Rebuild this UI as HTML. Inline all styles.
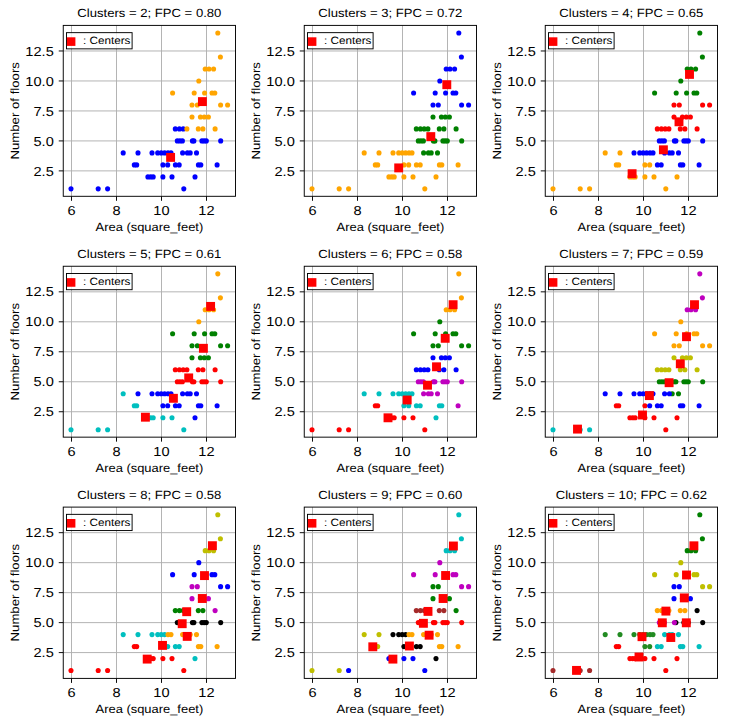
<!DOCTYPE html>
<html><head><meta charset="utf-8"><style>
html,body{margin:0;padding:0;background:#fff;}
svg{display:block;}
text{fill:#000;text-rendering:geometricPrecision;font-family:"Liberation Sans",sans-serif;}
</style></head><body>
<svg width="729" height="725" viewBox="0 0 729 725" font-family="Liberation Sans, sans-serif">
<rect width="729" height="725" fill="#fff"/>
<g>
<path d="M71.50 25.40V196.30M116.50 25.40V196.30M161.50 25.40V196.30M206.50 25.40V196.30M63.25 170.88H235.50M63.25 140.91H235.50M63.25 110.94H235.50M63.25 80.96H235.50M63.25 50.98H235.50" stroke="#b0b0b0" stroke-width="0.95" fill="none"/>
<path d="M71.50 196.30V200.80M116.50 196.30V200.80M161.50 196.30V200.80M206.50 196.30V200.80M63.25 170.88H58.75M63.25 140.91H58.75M63.25 110.94H58.75M63.25 80.96H58.75M63.25 50.98H58.75" stroke="#000" stroke-width="0.95" fill="none"/>
<text x="71.50" y="215.00" font-size="13.02" text-anchor="middle" textLength="8.12" lengthAdjust="spacingAndGlyphs">6</text>
<text x="116.50" y="215.00" font-size="13.02" text-anchor="middle" textLength="8.12" lengthAdjust="spacingAndGlyphs">8</text>
<text x="161.50" y="215.00" font-size="13.02" text-anchor="middle" textLength="16.24" lengthAdjust="spacingAndGlyphs">10</text>
<text x="206.50" y="215.00" font-size="13.02" text-anchor="middle" textLength="16.24" lengthAdjust="spacingAndGlyphs">12</text>
<text x="53.80" y="175.53" font-size="13.02" text-anchor="end" textLength="20.29" lengthAdjust="spacingAndGlyphs">2.5</text>
<text x="53.80" y="145.56" font-size="13.02" text-anchor="end" textLength="20.29" lengthAdjust="spacingAndGlyphs">5.0</text>
<text x="53.80" y="115.59" font-size="13.02" text-anchor="end" textLength="20.29" lengthAdjust="spacingAndGlyphs">7.5</text>
<text x="53.80" y="85.61" font-size="13.02" text-anchor="end" textLength="28.41" lengthAdjust="spacingAndGlyphs">10.0</text>
<text x="53.80" y="55.63" font-size="13.02" text-anchor="end" textLength="28.41" lengthAdjust="spacingAndGlyphs">12.5</text>
<text x="149.38" y="231.20" font-size="11.83" text-anchor="middle" textLength="107.66" lengthAdjust="spacingAndGlyphs">Area (square_feet)</text>
<text x="18.90" y="110.85" font-size="11.83" text-anchor="middle" textLength="97.47" lengthAdjust="spacingAndGlyphs" transform="rotate(-90 18.90 110.85)">Number of floors</text>
<text x="149.38" y="17.40" font-size="11.83" text-anchor="middle" textLength="143.98" lengthAdjust="spacingAndGlyphs">Clusters = 2; FPC = 0.80</text>
<circle cx="217.80" cy="33.00" r="2.55" fill="#ffa500"/>
<circle cx="220.40" cy="56.98" r="2.55" fill="#ffa500"/>
<circle cx="205.20" cy="68.97" r="2.55" fill="#ffa500"/>
<circle cx="209.00" cy="68.97" r="2.55" fill="#ffa500"/>
<circle cx="213.60" cy="68.97" r="2.55" fill="#ffa500"/>
<circle cx="198.80" cy="80.96" r="2.55" fill="#ffa500"/>
<circle cx="172.60" cy="92.95" r="2.55" fill="#ffa500"/>
<circle cx="194.20" cy="92.95" r="2.55" fill="#ffa500"/>
<circle cx="204.60" cy="92.95" r="2.55" fill="#ffa500"/>
<circle cx="212.00" cy="92.95" r="2.55" fill="#ffa500"/>
<circle cx="214.80" cy="92.95" r="2.55" fill="#ffa500"/>
<circle cx="192.00" cy="104.94" r="2.55" fill="#ffa500"/>
<circle cx="197.30" cy="104.94" r="2.55" fill="#ffa500"/>
<circle cx="220.60" cy="104.94" r="2.55" fill="#ffa500"/>
<circle cx="227.60" cy="104.94" r="2.55" fill="#ffa500"/>
<circle cx="192.00" cy="116.93" r="2.55" fill="#ffa500"/>
<circle cx="200.40" cy="116.93" r="2.55" fill="#ffa500"/>
<circle cx="204.30" cy="116.93" r="2.55" fill="#ffa500"/>
<circle cx="208.40" cy="116.93" r="2.55" fill="#ffa500"/>
<circle cx="175.30" cy="128.92" r="2.55" fill="#0000ff"/>
<circle cx="179.40" cy="128.92" r="2.55" fill="#0000ff"/>
<circle cx="183.20" cy="128.92" r="2.55" fill="#0000ff"/>
<circle cx="186.90" cy="128.92" r="2.55" fill="#ffa500"/>
<circle cx="198.30" cy="128.92" r="2.55" fill="#ffa500"/>
<circle cx="202.90" cy="128.92" r="2.55" fill="#ffa500"/>
<circle cx="215.10" cy="128.92" r="2.55" fill="#ffa500"/>
<circle cx="177.30" cy="140.91" r="2.55" fill="#0000ff"/>
<circle cx="179.90" cy="140.91" r="2.55" fill="#0000ff"/>
<circle cx="182.40" cy="140.91" r="2.55" fill="#0000ff"/>
<circle cx="192.40" cy="140.91" r="2.55" fill="#0000ff"/>
<circle cx="193.90" cy="140.91" r="2.55" fill="#0000ff"/>
<circle cx="201.90" cy="140.91" r="2.55" fill="#0000ff"/>
<circle cx="204.10" cy="140.91" r="2.55" fill="#0000ff"/>
<circle cx="206.30" cy="140.91" r="2.55" fill="#0000ff"/>
<circle cx="220.70" cy="140.91" r="2.55" fill="#0000ff"/>
<circle cx="123.20" cy="152.90" r="2.55" fill="#0000ff"/>
<circle cx="138.00" cy="152.90" r="2.55" fill="#0000ff"/>
<circle cx="152.00" cy="152.90" r="2.55" fill="#0000ff"/>
<circle cx="157.70" cy="152.90" r="2.55" fill="#0000ff"/>
<circle cx="161.20" cy="152.90" r="2.55" fill="#0000ff"/>
<circle cx="164.60" cy="152.90" r="2.55" fill="#0000ff"/>
<circle cx="168.00" cy="152.90" r="2.55" fill="#0000ff"/>
<circle cx="171.00" cy="152.90" r="2.55" fill="#0000ff"/>
<circle cx="182.60" cy="152.90" r="2.55" fill="#0000ff"/>
<circle cx="187.40" cy="152.90" r="2.55" fill="#0000ff"/>
<circle cx="190.20" cy="152.90" r="2.55" fill="#0000ff"/>
<circle cx="196.50" cy="152.90" r="2.55" fill="#0000ff"/>
<circle cx="134.30" cy="164.89" r="2.55" fill="#0000ff"/>
<circle cx="136.70" cy="164.89" r="2.55" fill="#0000ff"/>
<circle cx="162.90" cy="164.89" r="2.55" fill="#0000ff"/>
<circle cx="167.70" cy="164.89" r="2.55" fill="#0000ff"/>
<circle cx="175.40" cy="164.89" r="2.55" fill="#0000ff"/>
<circle cx="179.20" cy="164.89" r="2.55" fill="#0000ff"/>
<circle cx="198.40" cy="164.89" r="2.55" fill="#0000ff"/>
<circle cx="200.80" cy="164.89" r="2.55" fill="#0000ff"/>
<circle cx="217.10" cy="164.89" r="2.55" fill="#0000ff"/>
<circle cx="147.90" cy="176.88" r="2.55" fill="#0000ff"/>
<circle cx="150.70" cy="176.88" r="2.55" fill="#0000ff"/>
<circle cx="153.20" cy="176.88" r="2.55" fill="#0000ff"/>
<circle cx="162.90" cy="176.88" r="2.55" fill="#0000ff"/>
<circle cx="172.00" cy="176.88" r="2.55" fill="#0000ff"/>
<circle cx="195.00" cy="176.88" r="2.55" fill="#0000ff"/>
<circle cx="71.00" cy="188.87" r="2.55" fill="#0000ff"/>
<circle cx="98.20" cy="188.87" r="2.55" fill="#0000ff"/>
<circle cx="107.60" cy="188.87" r="2.55" fill="#0000ff"/>
<circle cx="183.80" cy="188.87" r="2.55" fill="#0000ff"/>
<rect x="197.95" y="97.15" width="8.9" height="8.9" fill="#ff0000"/>
<rect x="166.15" y="152.95" width="8.9" height="8.9" fill="#ff0000"/>
<rect x="66.50" y="32.65" width="65.60" height="16.20" fill="#fff" fill-opacity="0.8" stroke="#000" stroke-width="0.95"/>
<rect x="66.90" y="37.30" width="8.5" height="8.6" fill="#ff0000"/>
<text x="83.00" y="44.30" font-size="10.65" text-anchor="start" textLength="47.41" lengthAdjust="spacingAndGlyphs">: Centers</text>
<rect x="63.25" y="25.40" width="172.25" height="170.90" fill="none" stroke="#000" stroke-width="0.95"/>
</g>
<g>
<path d="M312.50 25.40V196.30M357.50 25.40V196.30M402.50 25.40V196.30M447.50 25.40V196.30M304.25 170.88H476.50M304.25 140.91H476.50M304.25 110.94H476.50M304.25 80.96H476.50M304.25 50.98H476.50" stroke="#b0b0b0" stroke-width="0.95" fill="none"/>
<path d="M312.50 196.30V200.80M357.50 196.30V200.80M402.50 196.30V200.80M447.50 196.30V200.80M304.25 170.88H299.75M304.25 140.91H299.75M304.25 110.94H299.75M304.25 80.96H299.75M304.25 50.98H299.75" stroke="#000" stroke-width="0.95" fill="none"/>
<text x="312.50" y="215.00" font-size="13.02" text-anchor="middle" textLength="8.12" lengthAdjust="spacingAndGlyphs">6</text>
<text x="357.50" y="215.00" font-size="13.02" text-anchor="middle" textLength="8.12" lengthAdjust="spacingAndGlyphs">8</text>
<text x="402.50" y="215.00" font-size="13.02" text-anchor="middle" textLength="16.24" lengthAdjust="spacingAndGlyphs">10</text>
<text x="447.50" y="215.00" font-size="13.02" text-anchor="middle" textLength="16.24" lengthAdjust="spacingAndGlyphs">12</text>
<text x="294.80" y="175.53" font-size="13.02" text-anchor="end" textLength="20.29" lengthAdjust="spacingAndGlyphs">2.5</text>
<text x="294.80" y="145.56" font-size="13.02" text-anchor="end" textLength="20.29" lengthAdjust="spacingAndGlyphs">5.0</text>
<text x="294.80" y="115.59" font-size="13.02" text-anchor="end" textLength="20.29" lengthAdjust="spacingAndGlyphs">7.5</text>
<text x="294.80" y="85.61" font-size="13.02" text-anchor="end" textLength="28.41" lengthAdjust="spacingAndGlyphs">10.0</text>
<text x="294.80" y="55.63" font-size="13.02" text-anchor="end" textLength="28.41" lengthAdjust="spacingAndGlyphs">12.5</text>
<text x="390.38" y="231.20" font-size="11.83" text-anchor="middle" textLength="107.66" lengthAdjust="spacingAndGlyphs">Area (square_feet)</text>
<text x="259.90" y="110.85" font-size="11.83" text-anchor="middle" textLength="97.47" lengthAdjust="spacingAndGlyphs" transform="rotate(-90 259.90 110.85)">Number of floors</text>
<text x="390.38" y="17.40" font-size="11.83" text-anchor="middle" textLength="143.98" lengthAdjust="spacingAndGlyphs">Clusters = 3; FPC = 0.72</text>
<circle cx="458.80" cy="33.00" r="2.55" fill="#0000ff"/>
<circle cx="461.40" cy="56.98" r="2.55" fill="#0000ff"/>
<circle cx="446.20" cy="68.97" r="2.55" fill="#0000ff"/>
<circle cx="450.00" cy="68.97" r="2.55" fill="#0000ff"/>
<circle cx="454.60" cy="68.97" r="2.55" fill="#0000ff"/>
<circle cx="439.80" cy="80.96" r="2.55" fill="#0000ff"/>
<circle cx="413.60" cy="92.95" r="2.55" fill="#0000ff"/>
<circle cx="435.20" cy="92.95" r="2.55" fill="#0000ff"/>
<circle cx="445.60" cy="92.95" r="2.55" fill="#0000ff"/>
<circle cx="453.00" cy="92.95" r="2.55" fill="#0000ff"/>
<circle cx="455.80" cy="92.95" r="2.55" fill="#0000ff"/>
<circle cx="433.00" cy="104.94" r="2.55" fill="#0000ff"/>
<circle cx="438.30" cy="104.94" r="2.55" fill="#0000ff"/>
<circle cx="461.60" cy="104.94" r="2.55" fill="#0000ff"/>
<circle cx="468.60" cy="104.94" r="2.55" fill="#0000ff"/>
<circle cx="433.00" cy="116.93" r="2.55" fill="#008000"/>
<circle cx="441.40" cy="116.93" r="2.55" fill="#008000"/>
<circle cx="445.30" cy="116.93" r="2.55" fill="#008000"/>
<circle cx="449.40" cy="116.93" r="2.55" fill="#008000"/>
<circle cx="416.30" cy="128.92" r="2.55" fill="#008000"/>
<circle cx="420.40" cy="128.92" r="2.55" fill="#008000"/>
<circle cx="424.20" cy="128.92" r="2.55" fill="#008000"/>
<circle cx="427.90" cy="128.92" r="2.55" fill="#008000"/>
<circle cx="439.30" cy="128.92" r="2.55" fill="#008000"/>
<circle cx="443.90" cy="128.92" r="2.55" fill="#008000"/>
<circle cx="456.10" cy="128.92" r="2.55" fill="#008000"/>
<circle cx="418.30" cy="140.91" r="2.55" fill="#008000"/>
<circle cx="420.90" cy="140.91" r="2.55" fill="#008000"/>
<circle cx="423.40" cy="140.91" r="2.55" fill="#008000"/>
<circle cx="433.40" cy="140.91" r="2.55" fill="#008000"/>
<circle cx="434.90" cy="140.91" r="2.55" fill="#008000"/>
<circle cx="442.90" cy="140.91" r="2.55" fill="#008000"/>
<circle cx="445.10" cy="140.91" r="2.55" fill="#008000"/>
<circle cx="447.30" cy="140.91" r="2.55" fill="#008000"/>
<circle cx="461.70" cy="140.91" r="2.55" fill="#008000"/>
<circle cx="364.20" cy="152.90" r="2.55" fill="#ffa500"/>
<circle cx="379.00" cy="152.90" r="2.55" fill="#ffa500"/>
<circle cx="393.00" cy="152.90" r="2.55" fill="#ffa500"/>
<circle cx="398.70" cy="152.90" r="2.55" fill="#ffa500"/>
<circle cx="402.20" cy="152.90" r="2.55" fill="#ffa500"/>
<circle cx="405.60" cy="152.90" r="2.55" fill="#ffa500"/>
<circle cx="409.00" cy="152.90" r="2.55" fill="#ffa500"/>
<circle cx="412.00" cy="152.90" r="2.55" fill="#ffa500"/>
<circle cx="423.60" cy="152.90" r="2.55" fill="#008000"/>
<circle cx="428.40" cy="152.90" r="2.55" fill="#008000"/>
<circle cx="431.20" cy="152.90" r="2.55" fill="#008000"/>
<circle cx="437.50" cy="152.90" r="2.55" fill="#008000"/>
<circle cx="375.30" cy="164.89" r="2.55" fill="#ffa500"/>
<circle cx="377.70" cy="164.89" r="2.55" fill="#ffa500"/>
<circle cx="403.90" cy="164.89" r="2.55" fill="#ffa500"/>
<circle cx="408.70" cy="164.89" r="2.55" fill="#ffa500"/>
<circle cx="416.40" cy="164.89" r="2.55" fill="#ffa500"/>
<circle cx="420.20" cy="164.89" r="2.55" fill="#ffa500"/>
<circle cx="439.40" cy="164.89" r="2.55" fill="#ffa500"/>
<circle cx="441.80" cy="164.89" r="2.55" fill="#ffa500"/>
<circle cx="458.10" cy="164.89" r="2.55" fill="#ffa500"/>
<circle cx="388.90" cy="176.88" r="2.55" fill="#ffa500"/>
<circle cx="391.70" cy="176.88" r="2.55" fill="#ffa500"/>
<circle cx="394.20" cy="176.88" r="2.55" fill="#ffa500"/>
<circle cx="403.90" cy="176.88" r="2.55" fill="#ffa500"/>
<circle cx="413.00" cy="176.88" r="2.55" fill="#ffa500"/>
<circle cx="436.00" cy="176.88" r="2.55" fill="#ffa500"/>
<circle cx="312.00" cy="188.87" r="2.55" fill="#ffa500"/>
<circle cx="339.20" cy="188.87" r="2.55" fill="#ffa500"/>
<circle cx="348.60" cy="188.87" r="2.55" fill="#ffa500"/>
<circle cx="424.80" cy="188.87" r="2.55" fill="#ffa500"/>
<rect x="442.35" y="80.25" width="8.9" height="8.9" fill="#ff0000"/>
<rect x="426.35" y="132.15" width="8.9" height="8.9" fill="#ff0000"/>
<rect x="394.25" y="163.45" width="8.9" height="8.9" fill="#ff0000"/>
<rect x="307.50" y="32.65" width="65.60" height="16.20" fill="#fff" fill-opacity="0.8" stroke="#000" stroke-width="0.95"/>
<rect x="307.90" y="37.30" width="8.5" height="8.6" fill="#ff0000"/>
<text x="324.00" y="44.30" font-size="10.65" text-anchor="start" textLength="47.41" lengthAdjust="spacingAndGlyphs">: Centers</text>
<rect x="304.25" y="25.40" width="172.25" height="170.90" fill="none" stroke="#000" stroke-width="0.95"/>
</g>
<g>
<path d="M553.50 25.40V196.30M598.50 25.40V196.30M643.50 25.40V196.30M688.50 25.40V196.30M545.25 170.88H717.50M545.25 140.91H717.50M545.25 110.94H717.50M545.25 80.96H717.50M545.25 50.98H717.50" stroke="#b0b0b0" stroke-width="0.95" fill="none"/>
<path d="M553.50 196.30V200.80M598.50 196.30V200.80M643.50 196.30V200.80M688.50 196.30V200.80M545.25 170.88H540.75M545.25 140.91H540.75M545.25 110.94H540.75M545.25 80.96H540.75M545.25 50.98H540.75" stroke="#000" stroke-width="0.95" fill="none"/>
<text x="553.50" y="215.00" font-size="13.02" text-anchor="middle" textLength="8.12" lengthAdjust="spacingAndGlyphs">6</text>
<text x="598.50" y="215.00" font-size="13.02" text-anchor="middle" textLength="8.12" lengthAdjust="spacingAndGlyphs">8</text>
<text x="643.50" y="215.00" font-size="13.02" text-anchor="middle" textLength="16.24" lengthAdjust="spacingAndGlyphs">10</text>
<text x="688.50" y="215.00" font-size="13.02" text-anchor="middle" textLength="16.24" lengthAdjust="spacingAndGlyphs">12</text>
<text x="535.80" y="175.53" font-size="13.02" text-anchor="end" textLength="20.29" lengthAdjust="spacingAndGlyphs">2.5</text>
<text x="535.80" y="145.56" font-size="13.02" text-anchor="end" textLength="20.29" lengthAdjust="spacingAndGlyphs">5.0</text>
<text x="535.80" y="115.59" font-size="13.02" text-anchor="end" textLength="20.29" lengthAdjust="spacingAndGlyphs">7.5</text>
<text x="535.80" y="85.61" font-size="13.02" text-anchor="end" textLength="28.41" lengthAdjust="spacingAndGlyphs">10.0</text>
<text x="535.80" y="55.63" font-size="13.02" text-anchor="end" textLength="28.41" lengthAdjust="spacingAndGlyphs">12.5</text>
<text x="631.38" y="231.20" font-size="11.83" text-anchor="middle" textLength="107.66" lengthAdjust="spacingAndGlyphs">Area (square_feet)</text>
<text x="500.90" y="110.85" font-size="11.83" text-anchor="middle" textLength="97.47" lengthAdjust="spacingAndGlyphs" transform="rotate(-90 500.90 110.85)">Number of floors</text>
<text x="631.38" y="17.40" font-size="11.83" text-anchor="middle" textLength="143.98" lengthAdjust="spacingAndGlyphs">Clusters = 4; FPC = 0.65</text>
<circle cx="699.80" cy="33.00" r="2.55" fill="#008000"/>
<circle cx="702.40" cy="56.98" r="2.55" fill="#008000"/>
<circle cx="687.20" cy="68.97" r="2.55" fill="#008000"/>
<circle cx="691.00" cy="68.97" r="2.55" fill="#008000"/>
<circle cx="695.60" cy="68.97" r="2.55" fill="#008000"/>
<circle cx="680.80" cy="80.96" r="2.55" fill="#008000"/>
<circle cx="654.60" cy="92.95" r="2.55" fill="#008000"/>
<circle cx="676.20" cy="92.95" r="2.55" fill="#008000"/>
<circle cx="686.60" cy="92.95" r="2.55" fill="#008000"/>
<circle cx="694.00" cy="92.95" r="2.55" fill="#008000"/>
<circle cx="696.80" cy="92.95" r="2.55" fill="#008000"/>
<circle cx="674.00" cy="104.94" r="2.55" fill="#ff0000"/>
<circle cx="679.30" cy="104.94" r="2.55" fill="#ff0000"/>
<circle cx="702.60" cy="104.94" r="2.55" fill="#ff0000"/>
<circle cx="709.60" cy="104.94" r="2.55" fill="#ff0000"/>
<circle cx="674.00" cy="116.93" r="2.55" fill="#ff0000"/>
<circle cx="682.40" cy="116.93" r="2.55" fill="#ff0000"/>
<circle cx="686.30" cy="116.93" r="2.55" fill="#ff0000"/>
<circle cx="690.40" cy="116.93" r="2.55" fill="#ff0000"/>
<circle cx="657.30" cy="128.92" r="2.55" fill="#ff0000"/>
<circle cx="661.40" cy="128.92" r="2.55" fill="#ff0000"/>
<circle cx="665.20" cy="128.92" r="2.55" fill="#ff0000"/>
<circle cx="668.90" cy="128.92" r="2.55" fill="#ff0000"/>
<circle cx="680.30" cy="128.92" r="2.55" fill="#ff0000"/>
<circle cx="684.90" cy="128.92" r="2.55" fill="#ff0000"/>
<circle cx="697.10" cy="128.92" r="2.55" fill="#ff0000"/>
<circle cx="659.30" cy="140.91" r="2.55" fill="#0000ff"/>
<circle cx="661.90" cy="140.91" r="2.55" fill="#0000ff"/>
<circle cx="664.40" cy="140.91" r="2.55" fill="#0000ff"/>
<circle cx="674.40" cy="140.91" r="2.55" fill="#0000ff"/>
<circle cx="675.90" cy="140.91" r="2.55" fill="#0000ff"/>
<circle cx="683.90" cy="140.91" r="2.55" fill="#0000ff"/>
<circle cx="686.10" cy="140.91" r="2.55" fill="#0000ff"/>
<circle cx="688.30" cy="140.91" r="2.55" fill="#0000ff"/>
<circle cx="702.70" cy="140.91" r="2.55" fill="#0000ff"/>
<circle cx="605.20" cy="152.90" r="2.55" fill="#ffa500"/>
<circle cx="620.00" cy="152.90" r="2.55" fill="#ffa500"/>
<circle cx="634.00" cy="152.90" r="2.55" fill="#0000ff"/>
<circle cx="639.70" cy="152.90" r="2.55" fill="#0000ff"/>
<circle cx="643.20" cy="152.90" r="2.55" fill="#0000ff"/>
<circle cx="646.60" cy="152.90" r="2.55" fill="#0000ff"/>
<circle cx="650.00" cy="152.90" r="2.55" fill="#0000ff"/>
<circle cx="653.00" cy="152.90" r="2.55" fill="#0000ff"/>
<circle cx="664.60" cy="152.90" r="2.55" fill="#0000ff"/>
<circle cx="669.40" cy="152.90" r="2.55" fill="#0000ff"/>
<circle cx="672.20" cy="152.90" r="2.55" fill="#0000ff"/>
<circle cx="678.50" cy="152.90" r="2.55" fill="#0000ff"/>
<circle cx="616.30" cy="164.89" r="2.55" fill="#ffa500"/>
<circle cx="618.70" cy="164.89" r="2.55" fill="#ffa500"/>
<circle cx="644.90" cy="164.89" r="2.55" fill="#ffa500"/>
<circle cx="649.70" cy="164.89" r="2.55" fill="#ffa500"/>
<circle cx="657.40" cy="164.89" r="2.55" fill="#0000ff"/>
<circle cx="661.20" cy="164.89" r="2.55" fill="#0000ff"/>
<circle cx="680.40" cy="164.89" r="2.55" fill="#0000ff"/>
<circle cx="682.80" cy="164.89" r="2.55" fill="#0000ff"/>
<circle cx="699.10" cy="164.89" r="2.55" fill="#0000ff"/>
<circle cx="629.90" cy="176.88" r="2.55" fill="#ffa500"/>
<circle cx="632.70" cy="176.88" r="2.55" fill="#ffa500"/>
<circle cx="635.20" cy="176.88" r="2.55" fill="#ffa500"/>
<circle cx="644.90" cy="176.88" r="2.55" fill="#ffa500"/>
<circle cx="654.00" cy="176.88" r="2.55" fill="#ffa500"/>
<circle cx="677.00" cy="176.88" r="2.55" fill="#ffa500"/>
<circle cx="553.00" cy="188.87" r="2.55" fill="#ffa500"/>
<circle cx="580.20" cy="188.87" r="2.55" fill="#ffa500"/>
<circle cx="589.60" cy="188.87" r="2.55" fill="#ffa500"/>
<circle cx="665.80" cy="188.87" r="2.55" fill="#ffa500"/>
<rect x="685.05" y="69.95" width="8.9" height="8.9" fill="#ff0000"/>
<rect x="674.55" y="117.35" width="8.9" height="8.9" fill="#ff0000"/>
<rect x="658.95" y="145.35" width="8.9" height="8.9" fill="#ff0000"/>
<rect x="627.65" y="169.25" width="8.9" height="8.9" fill="#ff0000"/>
<rect x="548.50" y="32.65" width="65.60" height="16.20" fill="#fff" fill-opacity="0.8" stroke="#000" stroke-width="0.95"/>
<rect x="548.90" y="37.30" width="8.5" height="8.6" fill="#ff0000"/>
<text x="565.00" y="44.30" font-size="10.65" text-anchor="start" textLength="47.41" lengthAdjust="spacingAndGlyphs">: Centers</text>
<rect x="545.25" y="25.40" width="172.25" height="170.90" fill="none" stroke="#000" stroke-width="0.95"/>
</g>
<g>
<path d="M71.50 266.25V437.15M116.50 266.25V437.15M161.50 266.25V437.15M206.50 266.25V437.15M63.25 411.74H235.50M63.25 381.76H235.50M63.25 351.78H235.50M63.25 321.81H235.50M63.25 291.83H235.50" stroke="#b0b0b0" stroke-width="0.95" fill="none"/>
<path d="M71.50 437.15V441.65M116.50 437.15V441.65M161.50 437.15V441.65M206.50 437.15V441.65M63.25 411.74H58.75M63.25 381.76H58.75M63.25 351.78H58.75M63.25 321.81H58.75M63.25 291.83H58.75" stroke="#000" stroke-width="0.95" fill="none"/>
<text x="71.50" y="455.85" font-size="13.02" text-anchor="middle" textLength="8.12" lengthAdjust="spacingAndGlyphs">6</text>
<text x="116.50" y="455.85" font-size="13.02" text-anchor="middle" textLength="8.12" lengthAdjust="spacingAndGlyphs">8</text>
<text x="161.50" y="455.85" font-size="13.02" text-anchor="middle" textLength="16.24" lengthAdjust="spacingAndGlyphs">10</text>
<text x="206.50" y="455.85" font-size="13.02" text-anchor="middle" textLength="16.24" lengthAdjust="spacingAndGlyphs">12</text>
<text x="53.80" y="416.38" font-size="13.02" text-anchor="end" textLength="20.29" lengthAdjust="spacingAndGlyphs">2.5</text>
<text x="53.80" y="386.41" font-size="13.02" text-anchor="end" textLength="20.29" lengthAdjust="spacingAndGlyphs">5.0</text>
<text x="53.80" y="356.43" font-size="13.02" text-anchor="end" textLength="20.29" lengthAdjust="spacingAndGlyphs">7.5</text>
<text x="53.80" y="326.46" font-size="13.02" text-anchor="end" textLength="28.41" lengthAdjust="spacingAndGlyphs">10.0</text>
<text x="53.80" y="296.48" font-size="13.02" text-anchor="end" textLength="28.41" lengthAdjust="spacingAndGlyphs">12.5</text>
<text x="149.38" y="472.05" font-size="11.83" text-anchor="middle" textLength="107.66" lengthAdjust="spacingAndGlyphs">Area (square_feet)</text>
<text x="18.90" y="351.70" font-size="11.83" text-anchor="middle" textLength="97.47" lengthAdjust="spacingAndGlyphs" transform="rotate(-90 18.90 351.70)">Number of floors</text>
<text x="149.38" y="258.25" font-size="11.83" text-anchor="middle" textLength="143.98" lengthAdjust="spacingAndGlyphs">Clusters = 5; FPC = 0.61</text>
<circle cx="217.80" cy="273.85" r="2.55" fill="#ffa500"/>
<circle cx="220.40" cy="297.83" r="2.55" fill="#ffa500"/>
<circle cx="205.20" cy="309.82" r="2.55" fill="#ffa500"/>
<circle cx="209.00" cy="309.82" r="2.55" fill="#ffa500"/>
<circle cx="213.60" cy="309.82" r="2.55" fill="#ffa500"/>
<circle cx="198.80" cy="321.81" r="2.55" fill="#ffa500"/>
<circle cx="172.60" cy="333.80" r="2.55" fill="#008000"/>
<circle cx="194.20" cy="333.80" r="2.55" fill="#008000"/>
<circle cx="204.60" cy="333.80" r="2.55" fill="#008000"/>
<circle cx="212.00" cy="333.80" r="2.55" fill="#008000"/>
<circle cx="214.80" cy="333.80" r="2.55" fill="#008000"/>
<circle cx="192.00" cy="345.79" r="2.55" fill="#008000"/>
<circle cx="197.30" cy="345.79" r="2.55" fill="#008000"/>
<circle cx="220.60" cy="345.79" r="2.55" fill="#008000"/>
<circle cx="227.60" cy="345.79" r="2.55" fill="#008000"/>
<circle cx="192.00" cy="357.78" r="2.55" fill="#008000"/>
<circle cx="200.40" cy="357.78" r="2.55" fill="#008000"/>
<circle cx="204.30" cy="357.78" r="2.55" fill="#008000"/>
<circle cx="208.40" cy="357.78" r="2.55" fill="#008000"/>
<circle cx="175.30" cy="369.77" r="2.55" fill="#ff0000"/>
<circle cx="179.40" cy="369.77" r="2.55" fill="#ff0000"/>
<circle cx="183.20" cy="369.77" r="2.55" fill="#ff0000"/>
<circle cx="186.90" cy="369.77" r="2.55" fill="#ff0000"/>
<circle cx="198.30" cy="369.77" r="2.55" fill="#ff0000"/>
<circle cx="202.90" cy="369.77" r="2.55" fill="#ff0000"/>
<circle cx="215.10" cy="369.77" r="2.55" fill="#ff0000"/>
<circle cx="177.30" cy="381.76" r="2.55" fill="#ff0000"/>
<circle cx="179.90" cy="381.76" r="2.55" fill="#ff0000"/>
<circle cx="182.40" cy="381.76" r="2.55" fill="#ff0000"/>
<circle cx="192.40" cy="381.76" r="2.55" fill="#ff0000"/>
<circle cx="193.90" cy="381.76" r="2.55" fill="#ff0000"/>
<circle cx="201.90" cy="381.76" r="2.55" fill="#ff0000"/>
<circle cx="204.10" cy="381.76" r="2.55" fill="#ff0000"/>
<circle cx="206.30" cy="381.76" r="2.55" fill="#ff0000"/>
<circle cx="220.70" cy="381.76" r="2.55" fill="#ff0000"/>
<circle cx="123.20" cy="393.75" r="2.55" fill="#00bfbf"/>
<circle cx="138.00" cy="393.75" r="2.55" fill="#0000ff"/>
<circle cx="152.00" cy="393.75" r="2.55" fill="#0000ff"/>
<circle cx="157.70" cy="393.75" r="2.55" fill="#0000ff"/>
<circle cx="161.20" cy="393.75" r="2.55" fill="#0000ff"/>
<circle cx="164.60" cy="393.75" r="2.55" fill="#0000ff"/>
<circle cx="168.00" cy="393.75" r="2.55" fill="#0000ff"/>
<circle cx="171.00" cy="393.75" r="2.55" fill="#0000ff"/>
<circle cx="182.60" cy="393.75" r="2.55" fill="#0000ff"/>
<circle cx="187.40" cy="393.75" r="2.55" fill="#0000ff"/>
<circle cx="190.20" cy="393.75" r="2.55" fill="#0000ff"/>
<circle cx="196.50" cy="393.75" r="2.55" fill="#0000ff"/>
<circle cx="134.30" cy="405.74" r="2.55" fill="#00bfbf"/>
<circle cx="136.70" cy="405.74" r="2.55" fill="#00bfbf"/>
<circle cx="162.90" cy="405.74" r="2.55" fill="#0000ff"/>
<circle cx="167.70" cy="405.74" r="2.55" fill="#0000ff"/>
<circle cx="175.40" cy="405.74" r="2.55" fill="#0000ff"/>
<circle cx="179.20" cy="405.74" r="2.55" fill="#0000ff"/>
<circle cx="198.40" cy="405.74" r="2.55" fill="#0000ff"/>
<circle cx="200.80" cy="405.74" r="2.55" fill="#0000ff"/>
<circle cx="217.10" cy="405.74" r="2.55" fill="#0000ff"/>
<circle cx="147.90" cy="417.73" r="2.55" fill="#00bfbf"/>
<circle cx="150.70" cy="417.73" r="2.55" fill="#00bfbf"/>
<circle cx="153.20" cy="417.73" r="2.55" fill="#00bfbf"/>
<circle cx="162.90" cy="417.73" r="2.55" fill="#00bfbf"/>
<circle cx="172.00" cy="417.73" r="2.55" fill="#00bfbf"/>
<circle cx="195.00" cy="417.73" r="2.55" fill="#0000ff"/>
<circle cx="71.00" cy="429.72" r="2.55" fill="#00bfbf"/>
<circle cx="98.20" cy="429.72" r="2.55" fill="#00bfbf"/>
<circle cx="107.60" cy="429.72" r="2.55" fill="#00bfbf"/>
<circle cx="183.80" cy="429.72" r="2.55" fill="#00bfbf"/>
<rect x="206.15" y="301.95" width="8.9" height="8.9" fill="#ff0000"/>
<rect x="198.95" y="343.85" width="8.9" height="8.9" fill="#ff0000"/>
<rect x="184.25" y="373.45" width="8.9" height="8.9" fill="#ff0000"/>
<rect x="168.95" y="393.85" width="8.9" height="8.9" fill="#ff0000"/>
<rect x="140.95" y="412.75" width="8.9" height="8.9" fill="#ff0000"/>
<rect x="66.50" y="273.50" width="65.60" height="16.20" fill="#fff" fill-opacity="0.8" stroke="#000" stroke-width="0.95"/>
<rect x="66.90" y="278.15" width="8.5" height="8.6" fill="#ff0000"/>
<text x="83.00" y="285.15" font-size="10.65" text-anchor="start" textLength="47.41" lengthAdjust="spacingAndGlyphs">: Centers</text>
<rect x="63.25" y="266.25" width="172.25" height="170.90" fill="none" stroke="#000" stroke-width="0.95"/>
</g>
<g>
<path d="M312.50 266.25V437.15M357.50 266.25V437.15M402.50 266.25V437.15M447.50 266.25V437.15M304.25 411.74H476.50M304.25 381.76H476.50M304.25 351.78H476.50M304.25 321.81H476.50M304.25 291.83H476.50" stroke="#b0b0b0" stroke-width="0.95" fill="none"/>
<path d="M312.50 437.15V441.65M357.50 437.15V441.65M402.50 437.15V441.65M447.50 437.15V441.65M304.25 411.74H299.75M304.25 381.76H299.75M304.25 351.78H299.75M304.25 321.81H299.75M304.25 291.83H299.75" stroke="#000" stroke-width="0.95" fill="none"/>
<text x="312.50" y="455.85" font-size="13.02" text-anchor="middle" textLength="8.12" lengthAdjust="spacingAndGlyphs">6</text>
<text x="357.50" y="455.85" font-size="13.02" text-anchor="middle" textLength="8.12" lengthAdjust="spacingAndGlyphs">8</text>
<text x="402.50" y="455.85" font-size="13.02" text-anchor="middle" textLength="16.24" lengthAdjust="spacingAndGlyphs">10</text>
<text x="447.50" y="455.85" font-size="13.02" text-anchor="middle" textLength="16.24" lengthAdjust="spacingAndGlyphs">12</text>
<text x="294.80" y="416.38" font-size="13.02" text-anchor="end" textLength="20.29" lengthAdjust="spacingAndGlyphs">2.5</text>
<text x="294.80" y="386.41" font-size="13.02" text-anchor="end" textLength="20.29" lengthAdjust="spacingAndGlyphs">5.0</text>
<text x="294.80" y="356.43" font-size="13.02" text-anchor="end" textLength="20.29" lengthAdjust="spacingAndGlyphs">7.5</text>
<text x="294.80" y="326.46" font-size="13.02" text-anchor="end" textLength="28.41" lengthAdjust="spacingAndGlyphs">10.0</text>
<text x="294.80" y="296.48" font-size="13.02" text-anchor="end" textLength="28.41" lengthAdjust="spacingAndGlyphs">12.5</text>
<text x="390.38" y="472.05" font-size="11.83" text-anchor="middle" textLength="107.66" lengthAdjust="spacingAndGlyphs">Area (square_feet)</text>
<text x="259.90" y="351.70" font-size="11.83" text-anchor="middle" textLength="97.47" lengthAdjust="spacingAndGlyphs" transform="rotate(-90 259.90 351.70)">Number of floors</text>
<text x="390.38" y="258.25" font-size="11.83" text-anchor="middle" textLength="143.98" lengthAdjust="spacingAndGlyphs">Clusters = 6; FPC = 0.58</text>
<circle cx="458.80" cy="273.85" r="2.55" fill="#ffa500"/>
<circle cx="461.40" cy="297.83" r="2.55" fill="#ffa500"/>
<circle cx="446.20" cy="309.82" r="2.55" fill="#ffa500"/>
<circle cx="450.00" cy="309.82" r="2.55" fill="#ffa500"/>
<circle cx="454.60" cy="309.82" r="2.55" fill="#ffa500"/>
<circle cx="439.80" cy="321.81" r="2.55" fill="#008000"/>
<circle cx="413.60" cy="333.80" r="2.55" fill="#008000"/>
<circle cx="435.20" cy="333.80" r="2.55" fill="#008000"/>
<circle cx="445.60" cy="333.80" r="2.55" fill="#008000"/>
<circle cx="453.00" cy="333.80" r="2.55" fill="#008000"/>
<circle cx="455.80" cy="333.80" r="2.55" fill="#008000"/>
<circle cx="433.00" cy="345.79" r="2.55" fill="#008000"/>
<circle cx="438.30" cy="345.79" r="2.55" fill="#008000"/>
<circle cx="461.60" cy="345.79" r="2.55" fill="#008000"/>
<circle cx="468.60" cy="345.79" r="2.55" fill="#008000"/>
<circle cx="433.00" cy="357.78" r="2.55" fill="#0000ff"/>
<circle cx="441.40" cy="357.78" r="2.55" fill="#0000ff"/>
<circle cx="445.30" cy="357.78" r="2.55" fill="#0000ff"/>
<circle cx="449.40" cy="357.78" r="2.55" fill="#0000ff"/>
<circle cx="416.30" cy="369.77" r="2.55" fill="#0000ff"/>
<circle cx="420.40" cy="369.77" r="2.55" fill="#0000ff"/>
<circle cx="424.20" cy="369.77" r="2.55" fill="#0000ff"/>
<circle cx="427.90" cy="369.77" r="2.55" fill="#0000ff"/>
<circle cx="439.30" cy="369.77" r="2.55" fill="#0000ff"/>
<circle cx="443.90" cy="369.77" r="2.55" fill="#0000ff"/>
<circle cx="456.10" cy="369.77" r="2.55" fill="#0000ff"/>
<circle cx="418.30" cy="381.76" r="2.55" fill="#bf00bf"/>
<circle cx="420.90" cy="381.76" r="2.55" fill="#bf00bf"/>
<circle cx="423.40" cy="381.76" r="2.55" fill="#bf00bf"/>
<circle cx="433.40" cy="381.76" r="2.55" fill="#bf00bf"/>
<circle cx="434.90" cy="381.76" r="2.55" fill="#bf00bf"/>
<circle cx="442.90" cy="381.76" r="2.55" fill="#bf00bf"/>
<circle cx="445.10" cy="381.76" r="2.55" fill="#bf00bf"/>
<circle cx="447.30" cy="381.76" r="2.55" fill="#bf00bf"/>
<circle cx="461.70" cy="381.76" r="2.55" fill="#bf00bf"/>
<circle cx="364.20" cy="393.75" r="2.55" fill="#00bfbf"/>
<circle cx="379.00" cy="393.75" r="2.55" fill="#00bfbf"/>
<circle cx="393.00" cy="393.75" r="2.55" fill="#00bfbf"/>
<circle cx="398.70" cy="393.75" r="2.55" fill="#00bfbf"/>
<circle cx="402.20" cy="393.75" r="2.55" fill="#00bfbf"/>
<circle cx="405.60" cy="393.75" r="2.55" fill="#00bfbf"/>
<circle cx="409.00" cy="393.75" r="2.55" fill="#00bfbf"/>
<circle cx="412.00" cy="393.75" r="2.55" fill="#00bfbf"/>
<circle cx="423.60" cy="393.75" r="2.55" fill="#bf00bf"/>
<circle cx="428.40" cy="393.75" r="2.55" fill="#bf00bf"/>
<circle cx="431.20" cy="393.75" r="2.55" fill="#bf00bf"/>
<circle cx="437.50" cy="393.75" r="2.55" fill="#bf00bf"/>
<circle cx="375.30" cy="405.74" r="2.55" fill="#ff0000"/>
<circle cx="377.70" cy="405.74" r="2.55" fill="#ff0000"/>
<circle cx="403.90" cy="405.74" r="2.55" fill="#00bfbf"/>
<circle cx="408.70" cy="405.74" r="2.55" fill="#00bfbf"/>
<circle cx="416.40" cy="405.74" r="2.55" fill="#00bfbf"/>
<circle cx="420.20" cy="405.74" r="2.55" fill="#00bfbf"/>
<circle cx="439.40" cy="405.74" r="2.55" fill="#00bfbf"/>
<circle cx="441.80" cy="405.74" r="2.55" fill="#00bfbf"/>
<circle cx="458.10" cy="405.74" r="2.55" fill="#bf00bf"/>
<circle cx="388.90" cy="417.73" r="2.55" fill="#ff0000"/>
<circle cx="391.70" cy="417.73" r="2.55" fill="#ff0000"/>
<circle cx="394.20" cy="417.73" r="2.55" fill="#ff0000"/>
<circle cx="403.90" cy="417.73" r="2.55" fill="#ff0000"/>
<circle cx="413.00" cy="417.73" r="2.55" fill="#ff0000"/>
<circle cx="436.00" cy="417.73" r="2.55" fill="#00bfbf"/>
<circle cx="312.00" cy="429.72" r="2.55" fill="#ff0000"/>
<circle cx="339.20" cy="429.72" r="2.55" fill="#ff0000"/>
<circle cx="348.60" cy="429.72" r="2.55" fill="#ff0000"/>
<circle cx="424.80" cy="429.72" r="2.55" fill="#ff0000"/>
<rect x="448.65" y="300.25" width="8.9" height="8.9" fill="#ff0000"/>
<rect x="440.75" y="333.85" width="8.9" height="8.9" fill="#ff0000"/>
<rect x="432.05" y="362.35" width="8.9" height="8.9" fill="#ff0000"/>
<rect x="423.05" y="380.75" width="8.9" height="8.9" fill="#ff0000"/>
<rect x="402.75" y="395.55" width="8.9" height="8.9" fill="#ff0000"/>
<rect x="383.55" y="413.35" width="8.9" height="8.9" fill="#ff0000"/>
<rect x="307.50" y="273.50" width="65.60" height="16.20" fill="#fff" fill-opacity="0.8" stroke="#000" stroke-width="0.95"/>
<rect x="307.90" y="278.15" width="8.5" height="8.6" fill="#ff0000"/>
<text x="324.00" y="285.15" font-size="10.65" text-anchor="start" textLength="47.41" lengthAdjust="spacingAndGlyphs">: Centers</text>
<rect x="304.25" y="266.25" width="172.25" height="170.90" fill="none" stroke="#000" stroke-width="0.95"/>
</g>
<g>
<path d="M553.50 266.25V437.15M598.50 266.25V437.15M643.50 266.25V437.15M688.50 266.25V437.15M545.25 411.74H717.50M545.25 381.76H717.50M545.25 351.78H717.50M545.25 321.81H717.50M545.25 291.83H717.50" stroke="#b0b0b0" stroke-width="0.95" fill="none"/>
<path d="M553.50 437.15V441.65M598.50 437.15V441.65M643.50 437.15V441.65M688.50 437.15V441.65M545.25 411.74H540.75M545.25 381.76H540.75M545.25 351.78H540.75M545.25 321.81H540.75M545.25 291.83H540.75" stroke="#000" stroke-width="0.95" fill="none"/>
<text x="553.50" y="455.85" font-size="13.02" text-anchor="middle" textLength="8.12" lengthAdjust="spacingAndGlyphs">6</text>
<text x="598.50" y="455.85" font-size="13.02" text-anchor="middle" textLength="8.12" lengthAdjust="spacingAndGlyphs">8</text>
<text x="643.50" y="455.85" font-size="13.02" text-anchor="middle" textLength="16.24" lengthAdjust="spacingAndGlyphs">10</text>
<text x="688.50" y="455.85" font-size="13.02" text-anchor="middle" textLength="16.24" lengthAdjust="spacingAndGlyphs">12</text>
<text x="535.80" y="416.38" font-size="13.02" text-anchor="end" textLength="20.29" lengthAdjust="spacingAndGlyphs">2.5</text>
<text x="535.80" y="386.41" font-size="13.02" text-anchor="end" textLength="20.29" lengthAdjust="spacingAndGlyphs">5.0</text>
<text x="535.80" y="356.43" font-size="13.02" text-anchor="end" textLength="20.29" lengthAdjust="spacingAndGlyphs">7.5</text>
<text x="535.80" y="326.46" font-size="13.02" text-anchor="end" textLength="28.41" lengthAdjust="spacingAndGlyphs">10.0</text>
<text x="535.80" y="296.48" font-size="13.02" text-anchor="end" textLength="28.41" lengthAdjust="spacingAndGlyphs">12.5</text>
<text x="631.38" y="472.05" font-size="11.83" text-anchor="middle" textLength="107.66" lengthAdjust="spacingAndGlyphs">Area (square_feet)</text>
<text x="500.90" y="351.70" font-size="11.83" text-anchor="middle" textLength="97.47" lengthAdjust="spacingAndGlyphs" transform="rotate(-90 500.90 351.70)">Number of floors</text>
<text x="631.38" y="258.25" font-size="11.83" text-anchor="middle" textLength="143.98" lengthAdjust="spacingAndGlyphs">Clusters = 7; FPC = 0.59</text>
<circle cx="699.80" cy="273.85" r="2.55" fill="#bf00bf"/>
<circle cx="702.40" cy="297.83" r="2.55" fill="#bf00bf"/>
<circle cx="687.20" cy="309.82" r="2.55" fill="#bf00bf"/>
<circle cx="691.00" cy="309.82" r="2.55" fill="#bf00bf"/>
<circle cx="695.60" cy="309.82" r="2.55" fill="#bf00bf"/>
<circle cx="680.80" cy="321.81" r="2.55" fill="#ffa500"/>
<circle cx="654.60" cy="333.80" r="2.55" fill="#ffa500"/>
<circle cx="676.20" cy="333.80" r="2.55" fill="#ffa500"/>
<circle cx="686.60" cy="333.80" r="2.55" fill="#ffa500"/>
<circle cx="694.00" cy="333.80" r="2.55" fill="#ffa500"/>
<circle cx="696.80" cy="333.80" r="2.55" fill="#ffa500"/>
<circle cx="674.00" cy="345.79" r="2.55" fill="#ffa500"/>
<circle cx="679.30" cy="345.79" r="2.55" fill="#ffa500"/>
<circle cx="702.60" cy="345.79" r="2.55" fill="#ffa500"/>
<circle cx="709.60" cy="345.79" r="2.55" fill="#ffa500"/>
<circle cx="674.00" cy="357.78" r="2.55" fill="#bfbf00"/>
<circle cx="682.40" cy="357.78" r="2.55" fill="#bfbf00"/>
<circle cx="686.30" cy="357.78" r="2.55" fill="#bfbf00"/>
<circle cx="690.40" cy="357.78" r="2.55" fill="#bfbf00"/>
<circle cx="657.30" cy="369.77" r="2.55" fill="#bfbf00"/>
<circle cx="661.40" cy="369.77" r="2.55" fill="#bfbf00"/>
<circle cx="665.20" cy="369.77" r="2.55" fill="#bfbf00"/>
<circle cx="668.90" cy="369.77" r="2.55" fill="#bfbf00"/>
<circle cx="680.30" cy="369.77" r="2.55" fill="#bfbf00"/>
<circle cx="684.90" cy="369.77" r="2.55" fill="#bfbf00"/>
<circle cx="697.10" cy="369.77" r="2.55" fill="#bfbf00"/>
<circle cx="659.30" cy="381.76" r="2.55" fill="#008000"/>
<circle cx="661.90" cy="381.76" r="2.55" fill="#008000"/>
<circle cx="664.40" cy="381.76" r="2.55" fill="#008000"/>
<circle cx="674.40" cy="381.76" r="2.55" fill="#008000"/>
<circle cx="675.90" cy="381.76" r="2.55" fill="#008000"/>
<circle cx="683.90" cy="381.76" r="2.55" fill="#008000"/>
<circle cx="686.10" cy="381.76" r="2.55" fill="#008000"/>
<circle cx="688.30" cy="381.76" r="2.55" fill="#008000"/>
<circle cx="702.70" cy="381.76" r="2.55" fill="#008000"/>
<circle cx="672.20" cy="393.75" r="2.55" fill="#008000"/>
<circle cx="678.50" cy="393.75" r="2.55" fill="#008000"/>
<circle cx="616.30" cy="405.74" r="2.55" fill="#ff0000"/>
<circle cx="618.70" cy="405.74" r="2.55" fill="#ff0000"/>
<circle cx="644.90" cy="405.74" r="2.55" fill="#ff0000"/>
<circle cx="629.90" cy="417.73" r="2.55" fill="#ff0000"/>
<circle cx="632.70" cy="417.73" r="2.55" fill="#ff0000"/>
<circle cx="635.20" cy="417.73" r="2.55" fill="#ff0000"/>
<circle cx="644.90" cy="417.73" r="2.55" fill="#ff0000"/>
<circle cx="654.00" cy="417.73" r="2.55" fill="#ff0000"/>
<circle cx="677.00" cy="417.73" r="2.55" fill="#ff0000"/>
<circle cx="553.00" cy="429.72" r="2.55" fill="#00bfbf"/>
<circle cx="580.20" cy="429.72" r="2.55" fill="#00bfbf"/>
<circle cx="589.60" cy="429.72" r="2.55" fill="#00bfbf"/>
<circle cx="665.80" cy="429.72" r="2.55" fill="#ff0000"/>
<circle cx="605.20" cy="393.75" r="2.55" fill="#0000ff"/>
<circle cx="620.00" cy="393.75" r="2.55" fill="#0000ff"/>
<circle cx="634.00" cy="393.75" r="2.55" fill="#0000ff"/>
<circle cx="639.70" cy="393.75" r="2.55" fill="#0000ff"/>
<circle cx="643.20" cy="393.75" r="2.55" fill="#0000ff"/>
<circle cx="646.60" cy="393.75" r="2.55" fill="#0000ff"/>
<circle cx="650.00" cy="393.75" r="2.55" fill="#0000ff"/>
<circle cx="653.00" cy="393.75" r="2.55" fill="#0000ff"/>
<circle cx="664.60" cy="393.75" r="2.55" fill="#0000ff"/>
<circle cx="669.40" cy="393.75" r="2.55" fill="#0000ff"/>
<circle cx="649.70" cy="405.74" r="2.55" fill="#0000ff"/>
<circle cx="657.40" cy="405.74" r="2.55" fill="#0000ff"/>
<circle cx="661.20" cy="405.74" r="2.55" fill="#0000ff"/>
<circle cx="680.40" cy="405.74" r="2.55" fill="#0000ff"/>
<circle cx="682.80" cy="405.74" r="2.55" fill="#0000ff"/>
<circle cx="699.10" cy="405.74" r="2.55" fill="#0000ff"/>
<rect x="690.05" y="300.25" width="8.9" height="8.9" fill="#ff0000"/>
<rect x="682.05" y="332.25" width="8.9" height="8.9" fill="#ff0000"/>
<rect x="675.85" y="359.35" width="8.9" height="8.9" fill="#ff0000"/>
<rect x="664.65" y="378.25" width="8.9" height="8.9" fill="#ff0000"/>
<rect x="644.95" y="391.15" width="8.9" height="8.9" fill="#ff0000"/>
<rect x="638.05" y="410.55" width="8.9" height="8.9" fill="#ff0000"/>
<rect x="573.05" y="424.65" width="8.9" height="8.9" fill="#ff0000"/>
<rect x="548.50" y="273.50" width="65.60" height="16.20" fill="#fff" fill-opacity="0.8" stroke="#000" stroke-width="0.95"/>
<rect x="548.90" y="278.15" width="8.5" height="8.6" fill="#ff0000"/>
<text x="565.00" y="285.15" font-size="10.65" text-anchor="start" textLength="47.41" lengthAdjust="spacingAndGlyphs">: Centers</text>
<rect x="545.25" y="266.25" width="172.25" height="170.90" fill="none" stroke="#000" stroke-width="0.95"/>
</g>
<g>
<path d="M71.50 507.10V678.40M116.50 507.10V678.40M161.50 507.10V678.40M206.50 507.10V678.40M63.25 652.59H235.50M63.25 622.61H235.50M63.25 592.63H235.50M63.25 562.66H235.50M63.25 532.68H235.50" stroke="#b0b0b0" stroke-width="0.95" fill="none"/>
<path d="M71.50 678.40V682.90M116.50 678.40V682.90M161.50 678.40V682.90M206.50 678.40V682.90M63.25 652.59H58.75M63.25 622.61H58.75M63.25 592.63H58.75M63.25 562.66H58.75M63.25 532.68H58.75" stroke="#000" stroke-width="0.95" fill="none"/>
<text x="71.50" y="696.70" font-size="13.02" text-anchor="middle" textLength="8.12" lengthAdjust="spacingAndGlyphs">6</text>
<text x="116.50" y="696.70" font-size="13.02" text-anchor="middle" textLength="8.12" lengthAdjust="spacingAndGlyphs">8</text>
<text x="161.50" y="696.70" font-size="13.02" text-anchor="middle" textLength="16.24" lengthAdjust="spacingAndGlyphs">10</text>
<text x="206.50" y="696.70" font-size="13.02" text-anchor="middle" textLength="16.24" lengthAdjust="spacingAndGlyphs">12</text>
<text x="53.80" y="657.24" font-size="13.02" text-anchor="end" textLength="20.29" lengthAdjust="spacingAndGlyphs">2.5</text>
<text x="53.80" y="627.26" font-size="13.02" text-anchor="end" textLength="20.29" lengthAdjust="spacingAndGlyphs">5.0</text>
<text x="53.80" y="597.28" font-size="13.02" text-anchor="end" textLength="20.29" lengthAdjust="spacingAndGlyphs">7.5</text>
<text x="53.80" y="567.31" font-size="13.02" text-anchor="end" textLength="28.41" lengthAdjust="spacingAndGlyphs">10.0</text>
<text x="53.80" y="537.33" font-size="13.02" text-anchor="end" textLength="28.41" lengthAdjust="spacingAndGlyphs">12.5</text>
<text x="149.38" y="712.90" font-size="11.83" text-anchor="middle" textLength="107.66" lengthAdjust="spacingAndGlyphs">Area (square_feet)</text>
<text x="18.90" y="592.75" font-size="11.83" text-anchor="middle" textLength="97.47" lengthAdjust="spacingAndGlyphs" transform="rotate(-90 18.90 592.75)">Number of floors</text>
<text x="149.38" y="499.10" font-size="11.83" text-anchor="middle" textLength="143.98" lengthAdjust="spacingAndGlyphs">Clusters = 8; FPC = 0.58</text>
<circle cx="217.80" cy="514.70" r="2.55" fill="#bfbf00"/>
<circle cx="220.40" cy="538.68" r="2.55" fill="#bfbf00"/>
<circle cx="205.20" cy="550.67" r="2.55" fill="#bfbf00"/>
<circle cx="209.00" cy="550.67" r="2.55" fill="#bfbf00"/>
<circle cx="213.60" cy="550.67" r="2.55" fill="#bfbf00"/>
<circle cx="198.80" cy="562.66" r="2.55" fill="#0000ff"/>
<circle cx="172.60" cy="574.65" r="2.55" fill="#0000ff"/>
<circle cx="194.20" cy="574.65" r="2.55" fill="#0000ff"/>
<circle cx="204.60" cy="574.65" r="2.55" fill="#0000ff"/>
<circle cx="212.00" cy="574.65" r="2.55" fill="#0000ff"/>
<circle cx="214.80" cy="574.65" r="2.55" fill="#0000ff"/>
<circle cx="192.00" cy="586.64" r="2.55" fill="#bf00bf"/>
<circle cx="197.30" cy="586.64" r="2.55" fill="#bf00bf"/>
<circle cx="220.60" cy="586.64" r="2.55" fill="#0000ff"/>
<circle cx="227.60" cy="586.64" r="2.55" fill="#0000ff"/>
<circle cx="192.00" cy="598.63" r="2.55" fill="#bf00bf"/>
<circle cx="200.40" cy="598.63" r="2.55" fill="#bf00bf"/>
<circle cx="204.30" cy="598.63" r="2.55" fill="#bf00bf"/>
<circle cx="208.40" cy="598.63" r="2.55" fill="#bf00bf"/>
<circle cx="175.30" cy="610.62" r="2.55" fill="#008000"/>
<circle cx="179.40" cy="610.62" r="2.55" fill="#008000"/>
<circle cx="183.20" cy="610.62" r="2.55" fill="#008000"/>
<circle cx="186.90" cy="610.62" r="2.55" fill="#008000"/>
<circle cx="198.30" cy="610.62" r="2.55" fill="#008000"/>
<circle cx="202.90" cy="610.62" r="2.55" fill="#008000"/>
<circle cx="215.10" cy="610.62" r="2.55" fill="#bf00bf"/>
<circle cx="177.30" cy="622.61" r="2.55" fill="#000000"/>
<circle cx="179.90" cy="622.61" r="2.55" fill="#000000"/>
<circle cx="182.40" cy="622.61" r="2.55" fill="#000000"/>
<circle cx="192.40" cy="622.61" r="2.55" fill="#000000"/>
<circle cx="193.90" cy="622.61" r="2.55" fill="#000000"/>
<circle cx="201.90" cy="622.61" r="2.55" fill="#000000"/>
<circle cx="204.10" cy="622.61" r="2.55" fill="#000000"/>
<circle cx="206.30" cy="622.61" r="2.55" fill="#000000"/>
<circle cx="220.70" cy="622.61" r="2.55" fill="#000000"/>
<circle cx="123.20" cy="634.60" r="2.55" fill="#00bfbf"/>
<circle cx="138.00" cy="634.60" r="2.55" fill="#00bfbf"/>
<circle cx="152.00" cy="634.60" r="2.55" fill="#00bfbf"/>
<circle cx="157.70" cy="634.60" r="2.55" fill="#00bfbf"/>
<circle cx="161.20" cy="634.60" r="2.55" fill="#00bfbf"/>
<circle cx="164.60" cy="634.60" r="2.55" fill="#00bfbf"/>
<circle cx="168.00" cy="634.60" r="2.55" fill="#ffa500"/>
<circle cx="171.00" cy="634.60" r="2.55" fill="#ffa500"/>
<circle cx="182.60" cy="634.60" r="2.55" fill="#ffa500"/>
<circle cx="187.40" cy="634.60" r="2.55" fill="#ffa500"/>
<circle cx="190.20" cy="634.60" r="2.55" fill="#ffa500"/>
<circle cx="196.50" cy="634.60" r="2.55" fill="#ffa500"/>
<circle cx="134.30" cy="646.59" r="2.55" fill="#ff0000"/>
<circle cx="136.70" cy="646.59" r="2.55" fill="#ff0000"/>
<circle cx="162.90" cy="646.59" r="2.55" fill="#00bfbf"/>
<circle cx="167.70" cy="646.59" r="2.55" fill="#00bfbf"/>
<circle cx="175.40" cy="646.59" r="2.55" fill="#00bfbf"/>
<circle cx="179.20" cy="646.59" r="2.55" fill="#00bfbf"/>
<circle cx="198.40" cy="646.59" r="2.55" fill="#ffa500"/>
<circle cx="200.80" cy="646.59" r="2.55" fill="#ffa500"/>
<circle cx="217.10" cy="646.59" r="2.55" fill="#ffa500"/>
<circle cx="147.90" cy="658.58" r="2.55" fill="#ff0000"/>
<circle cx="150.70" cy="658.58" r="2.55" fill="#ff0000"/>
<circle cx="153.20" cy="658.58" r="2.55" fill="#ff0000"/>
<circle cx="162.90" cy="658.58" r="2.55" fill="#ff0000"/>
<circle cx="172.00" cy="658.58" r="2.55" fill="#ff0000"/>
<circle cx="195.00" cy="658.58" r="2.55" fill="#00bfbf"/>
<circle cx="71.00" cy="670.57" r="2.55" fill="#ff0000"/>
<circle cx="98.20" cy="670.57" r="2.55" fill="#ff0000"/>
<circle cx="107.60" cy="670.57" r="2.55" fill="#ff0000"/>
<circle cx="183.80" cy="670.57" r="2.55" fill="#ff0000"/>
<rect x="207.95" y="541.25" width="8.9" height="8.9" fill="#ff0000"/>
<rect x="200.05" y="571.15" width="8.9" height="8.9" fill="#ff0000"/>
<rect x="197.85" y="594.05" width="8.9" height="8.9" fill="#ff0000"/>
<rect x="182.25" y="607.25" width="8.9" height="8.9" fill="#ff0000"/>
<rect x="177.75" y="619.25" width="8.9" height="8.9" fill="#ff0000"/>
<rect x="182.75" y="631.95" width="8.9" height="8.9" fill="#ff0000"/>
<rect x="158.05" y="640.95" width="8.9" height="8.9" fill="#ff0000"/>
<rect x="142.75" y="654.65" width="8.9" height="8.9" fill="#ff0000"/>
<rect x="66.50" y="514.35" width="65.60" height="16.20" fill="#fff" fill-opacity="0.8" stroke="#000" stroke-width="0.95"/>
<rect x="66.90" y="519.00" width="8.5" height="8.6" fill="#ff0000"/>
<text x="83.00" y="526.00" font-size="10.65" text-anchor="start" textLength="47.41" lengthAdjust="spacingAndGlyphs">: Centers</text>
<rect x="63.25" y="507.10" width="172.25" height="171.30" fill="none" stroke="#000" stroke-width="0.95"/>
</g>
<g>
<path d="M312.50 507.10V678.40M357.50 507.10V678.40M402.50 507.10V678.40M447.50 507.10V678.40M304.25 652.59H476.50M304.25 622.61H476.50M304.25 592.63H476.50M304.25 562.66H476.50M304.25 532.68H476.50" stroke="#b0b0b0" stroke-width="0.95" fill="none"/>
<path d="M312.50 678.40V682.90M357.50 678.40V682.90M402.50 678.40V682.90M447.50 678.40V682.90M304.25 652.59H299.75M304.25 622.61H299.75M304.25 592.63H299.75M304.25 562.66H299.75M304.25 532.68H299.75" stroke="#000" stroke-width="0.95" fill="none"/>
<text x="312.50" y="696.70" font-size="13.02" text-anchor="middle" textLength="8.12" lengthAdjust="spacingAndGlyphs">6</text>
<text x="357.50" y="696.70" font-size="13.02" text-anchor="middle" textLength="8.12" lengthAdjust="spacingAndGlyphs">8</text>
<text x="402.50" y="696.70" font-size="13.02" text-anchor="middle" textLength="16.24" lengthAdjust="spacingAndGlyphs">10</text>
<text x="447.50" y="696.70" font-size="13.02" text-anchor="middle" textLength="16.24" lengthAdjust="spacingAndGlyphs">12</text>
<text x="294.80" y="657.24" font-size="13.02" text-anchor="end" textLength="20.29" lengthAdjust="spacingAndGlyphs">2.5</text>
<text x="294.80" y="627.26" font-size="13.02" text-anchor="end" textLength="20.29" lengthAdjust="spacingAndGlyphs">5.0</text>
<text x="294.80" y="597.28" font-size="13.02" text-anchor="end" textLength="20.29" lengthAdjust="spacingAndGlyphs">7.5</text>
<text x="294.80" y="567.31" font-size="13.02" text-anchor="end" textLength="28.41" lengthAdjust="spacingAndGlyphs">10.0</text>
<text x="294.80" y="537.33" font-size="13.02" text-anchor="end" textLength="28.41" lengthAdjust="spacingAndGlyphs">12.5</text>
<text x="390.38" y="712.90" font-size="11.83" text-anchor="middle" textLength="107.66" lengthAdjust="spacingAndGlyphs">Area (square_feet)</text>
<text x="259.90" y="592.75" font-size="11.83" text-anchor="middle" textLength="97.47" lengthAdjust="spacingAndGlyphs" transform="rotate(-90 259.90 592.75)">Number of floors</text>
<text x="390.38" y="499.10" font-size="11.83" text-anchor="middle" textLength="143.98" lengthAdjust="spacingAndGlyphs">Clusters = 9; FPC = 0.60</text>
<circle cx="458.80" cy="514.70" r="2.55" fill="#00bfbf"/>
<circle cx="461.40" cy="538.68" r="2.55" fill="#00bfbf"/>
<circle cx="446.20" cy="550.67" r="2.55" fill="#00bfbf"/>
<circle cx="450.00" cy="550.67" r="2.55" fill="#00bfbf"/>
<circle cx="454.60" cy="550.67" r="2.55" fill="#00bfbf"/>
<circle cx="439.80" cy="562.66" r="2.55" fill="#bf00bf"/>
<circle cx="413.60" cy="574.65" r="2.55" fill="#bf00bf"/>
<circle cx="435.20" cy="574.65" r="2.55" fill="#bf00bf"/>
<circle cx="445.60" cy="574.65" r="2.55" fill="#bf00bf"/>
<circle cx="453.00" cy="574.65" r="2.55" fill="#bf00bf"/>
<circle cx="455.80" cy="574.65" r="2.55" fill="#bf00bf"/>
<circle cx="433.00" cy="586.64" r="2.55" fill="#008000"/>
<circle cx="438.30" cy="586.64" r="2.55" fill="#008000"/>
<circle cx="461.60" cy="586.64" r="2.55" fill="#bf00bf"/>
<circle cx="468.60" cy="586.64" r="2.55" fill="#bf00bf"/>
<circle cx="433.00" cy="598.63" r="2.55" fill="#008000"/>
<circle cx="441.40" cy="598.63" r="2.55" fill="#008000"/>
<circle cx="445.30" cy="598.63" r="2.55" fill="#008000"/>
<circle cx="449.40" cy="598.63" r="2.55" fill="#008000"/>
<circle cx="416.30" cy="610.62" r="2.55" fill="#a52a2a"/>
<circle cx="420.40" cy="610.62" r="2.55" fill="#a52a2a"/>
<circle cx="424.20" cy="610.62" r="2.55" fill="#a52a2a"/>
<circle cx="427.90" cy="610.62" r="2.55" fill="#a52a2a"/>
<circle cx="439.30" cy="610.62" r="2.55" fill="#a52a2a"/>
<circle cx="443.90" cy="610.62" r="2.55" fill="#a52a2a"/>
<circle cx="456.10" cy="610.62" r="2.55" fill="#008000"/>
<circle cx="418.30" cy="622.61" r="2.55" fill="#ff0000"/>
<circle cx="420.90" cy="622.61" r="2.55" fill="#ff0000"/>
<circle cx="423.40" cy="622.61" r="2.55" fill="#ff0000"/>
<circle cx="433.40" cy="622.61" r="2.55" fill="#ff0000"/>
<circle cx="434.90" cy="622.61" r="2.55" fill="#ff0000"/>
<circle cx="442.90" cy="622.61" r="2.55" fill="#ff0000"/>
<circle cx="445.10" cy="622.61" r="2.55" fill="#ff0000"/>
<circle cx="447.30" cy="622.61" r="2.55" fill="#ff0000"/>
<circle cx="461.70" cy="622.61" r="2.55" fill="#ff0000"/>
<circle cx="364.20" cy="634.60" r="2.55" fill="#bfbf00"/>
<circle cx="379.00" cy="634.60" r="2.55" fill="#bfbf00"/>
<circle cx="393.00" cy="634.60" r="2.55" fill="#000000"/>
<circle cx="398.70" cy="634.60" r="2.55" fill="#000000"/>
<circle cx="402.20" cy="634.60" r="2.55" fill="#000000"/>
<circle cx="405.60" cy="634.60" r="2.55" fill="#000000"/>
<circle cx="409.00" cy="634.60" r="2.55" fill="#ffa500"/>
<circle cx="412.00" cy="634.60" r="2.55" fill="#ffa500"/>
<circle cx="423.60" cy="634.60" r="2.55" fill="#ffa500"/>
<circle cx="428.40" cy="634.60" r="2.55" fill="#ffa500"/>
<circle cx="431.20" cy="634.60" r="2.55" fill="#ffa500"/>
<circle cx="437.50" cy="634.60" r="2.55" fill="#ffa500"/>
<circle cx="375.30" cy="646.59" r="2.55" fill="#bfbf00"/>
<circle cx="377.70" cy="646.59" r="2.55" fill="#bfbf00"/>
<circle cx="403.90" cy="646.59" r="2.55" fill="#000000"/>
<circle cx="408.70" cy="646.59" r="2.55" fill="#000000"/>
<circle cx="416.40" cy="646.59" r="2.55" fill="#000000"/>
<circle cx="420.20" cy="646.59" r="2.55" fill="#000000"/>
<circle cx="439.40" cy="646.59" r="2.55" fill="#ffa500"/>
<circle cx="441.80" cy="646.59" r="2.55" fill="#ffa500"/>
<circle cx="458.10" cy="646.59" r="2.55" fill="#ffa500"/>
<circle cx="388.90" cy="658.58" r="2.55" fill="#0000ff"/>
<circle cx="391.70" cy="658.58" r="2.55" fill="#0000ff"/>
<circle cx="394.20" cy="658.58" r="2.55" fill="#0000ff"/>
<circle cx="403.90" cy="658.58" r="2.55" fill="#0000ff"/>
<circle cx="413.00" cy="658.58" r="2.55" fill="#0000ff"/>
<circle cx="436.00" cy="658.58" r="2.55" fill="#000000"/>
<circle cx="312.00" cy="670.57" r="2.55" fill="#bfbf00"/>
<circle cx="339.20" cy="670.57" r="2.55" fill="#bfbf00"/>
<circle cx="348.60" cy="670.57" r="2.55" fill="#0000ff"/>
<circle cx="424.80" cy="670.57" r="2.55" fill="#0000ff"/>
<rect x="448.95" y="541.55" width="8.9" height="8.9" fill="#ff0000"/>
<rect x="441.15" y="571.05" width="8.9" height="8.9" fill="#ff0000"/>
<rect x="438.65" y="594.05" width="8.9" height="8.9" fill="#ff0000"/>
<rect x="423.55" y="606.95" width="8.9" height="8.9" fill="#ff0000"/>
<rect x="418.95" y="618.85" width="8.9" height="8.9" fill="#ff0000"/>
<rect x="424.65" y="630.75" width="8.9" height="8.9" fill="#ff0000"/>
<rect x="368.35" y="642.35" width="8.9" height="8.9" fill="#ff0000"/>
<rect x="404.95" y="641.55" width="8.9" height="8.9" fill="#ff0000"/>
<rect x="388.45" y="654.65" width="8.9" height="8.9" fill="#ff0000"/>
<rect x="307.50" y="514.35" width="65.60" height="16.20" fill="#fff" fill-opacity="0.8" stroke="#000" stroke-width="0.95"/>
<rect x="307.90" y="519.00" width="8.5" height="8.6" fill="#ff0000"/>
<text x="324.00" y="526.00" font-size="10.65" text-anchor="start" textLength="47.41" lengthAdjust="spacingAndGlyphs">: Centers</text>
<rect x="304.25" y="507.10" width="172.25" height="171.30" fill="none" stroke="#000" stroke-width="0.95"/>
</g>
<g>
<path d="M553.50 507.10V678.40M598.50 507.10V678.40M643.50 507.10V678.40M688.50 507.10V678.40M545.25 652.59H717.50M545.25 622.61H717.50M545.25 592.63H717.50M545.25 562.66H717.50M545.25 532.68H717.50" stroke="#b0b0b0" stroke-width="0.95" fill="none"/>
<path d="M553.50 678.40V682.90M598.50 678.40V682.90M643.50 678.40V682.90M688.50 678.40V682.90M545.25 652.59H540.75M545.25 622.61H540.75M545.25 592.63H540.75M545.25 562.66H540.75M545.25 532.68H540.75" stroke="#000" stroke-width="0.95" fill="none"/>
<text x="553.50" y="696.70" font-size="13.02" text-anchor="middle" textLength="8.12" lengthAdjust="spacingAndGlyphs">6</text>
<text x="598.50" y="696.70" font-size="13.02" text-anchor="middle" textLength="8.12" lengthAdjust="spacingAndGlyphs">8</text>
<text x="643.50" y="696.70" font-size="13.02" text-anchor="middle" textLength="16.24" lengthAdjust="spacingAndGlyphs">10</text>
<text x="688.50" y="696.70" font-size="13.02" text-anchor="middle" textLength="16.24" lengthAdjust="spacingAndGlyphs">12</text>
<text x="535.80" y="657.24" font-size="13.02" text-anchor="end" textLength="20.29" lengthAdjust="spacingAndGlyphs">2.5</text>
<text x="535.80" y="627.26" font-size="13.02" text-anchor="end" textLength="20.29" lengthAdjust="spacingAndGlyphs">5.0</text>
<text x="535.80" y="597.28" font-size="13.02" text-anchor="end" textLength="20.29" lengthAdjust="spacingAndGlyphs">7.5</text>
<text x="535.80" y="567.31" font-size="13.02" text-anchor="end" textLength="28.41" lengthAdjust="spacingAndGlyphs">10.0</text>
<text x="535.80" y="537.33" font-size="13.02" text-anchor="end" textLength="28.41" lengthAdjust="spacingAndGlyphs">12.5</text>
<text x="631.38" y="712.90" font-size="11.83" text-anchor="middle" textLength="107.66" lengthAdjust="spacingAndGlyphs">Area (square_feet)</text>
<text x="500.90" y="592.75" font-size="11.83" text-anchor="middle" textLength="97.47" lengthAdjust="spacingAndGlyphs" transform="rotate(-90 500.90 592.75)">Number of floors</text>
<text x="631.38" y="499.10" font-size="11.83" text-anchor="middle" textLength="151.36" lengthAdjust="spacingAndGlyphs">Clusters = 10; FPC = 0.62</text>
<circle cx="699.80" cy="514.70" r="2.55" fill="#008000"/>
<circle cx="702.40" cy="538.68" r="2.55" fill="#008000"/>
<circle cx="687.20" cy="550.67" r="2.55" fill="#008000"/>
<circle cx="691.00" cy="550.67" r="2.55" fill="#008000"/>
<circle cx="695.60" cy="550.67" r="2.55" fill="#008000"/>
<circle cx="680.80" cy="562.66" r="2.55" fill="#bfbf00"/>
<circle cx="654.60" cy="574.65" r="2.55" fill="#bfbf00"/>
<circle cx="676.20" cy="574.65" r="2.55" fill="#bfbf00"/>
<circle cx="686.60" cy="574.65" r="2.55" fill="#bfbf00"/>
<circle cx="694.00" cy="574.65" r="2.55" fill="#bfbf00"/>
<circle cx="696.80" cy="574.65" r="2.55" fill="#bfbf00"/>
<circle cx="674.00" cy="586.64" r="2.55" fill="#0000ff"/>
<circle cx="679.30" cy="586.64" r="2.55" fill="#0000ff"/>
<circle cx="702.60" cy="586.64" r="2.55" fill="#bfbf00"/>
<circle cx="709.60" cy="586.64" r="2.55" fill="#bfbf00"/>
<circle cx="674.00" cy="598.63" r="2.55" fill="#0000ff"/>
<circle cx="682.40" cy="598.63" r="2.55" fill="#0000ff"/>
<circle cx="686.30" cy="598.63" r="2.55" fill="#0000ff"/>
<circle cx="690.40" cy="598.63" r="2.55" fill="#0000ff"/>
<circle cx="657.30" cy="610.62" r="2.55" fill="#ffa500"/>
<circle cx="661.40" cy="610.62" r="2.55" fill="#ffa500"/>
<circle cx="665.20" cy="610.62" r="2.55" fill="#ffa500"/>
<circle cx="668.90" cy="610.62" r="2.55" fill="#ffa500"/>
<circle cx="680.30" cy="610.62" r="2.55" fill="#ffa500"/>
<circle cx="684.90" cy="610.62" r="2.55" fill="#ffa500"/>
<circle cx="697.10" cy="610.62" r="2.55" fill="#000000"/>
<circle cx="675.90" cy="622.61" r="2.55" fill="#000000"/>
<circle cx="683.90" cy="622.61" r="2.55" fill="#000000"/>
<circle cx="686.10" cy="622.61" r="2.55" fill="#000000"/>
<circle cx="688.30" cy="622.61" r="2.55" fill="#000000"/>
<circle cx="702.70" cy="622.61" r="2.55" fill="#000000"/>
<circle cx="605.20" cy="634.60" r="2.55" fill="#228b22"/>
<circle cx="620.00" cy="634.60" r="2.55" fill="#228b22"/>
<circle cx="634.00" cy="634.60" r="2.55" fill="#228b22"/>
<circle cx="639.70" cy="634.60" r="2.55" fill="#228b22"/>
<circle cx="643.20" cy="634.60" r="2.55" fill="#228b22"/>
<circle cx="646.60" cy="634.60" r="2.55" fill="#228b22"/>
<circle cx="650.00" cy="634.60" r="2.55" fill="#228b22"/>
<circle cx="653.00" cy="634.60" r="2.55" fill="#228b22"/>
<circle cx="664.60" cy="634.60" r="2.55" fill="#00bfbf"/>
<circle cx="669.40" cy="634.60" r="2.55" fill="#00bfbf"/>
<circle cx="672.20" cy="634.60" r="2.55" fill="#00bfbf"/>
<circle cx="678.50" cy="634.60" r="2.55" fill="#00bfbf"/>
<circle cx="616.30" cy="646.59" r="2.55" fill="#ff0000"/>
<circle cx="618.70" cy="646.59" r="2.55" fill="#ff0000"/>
<circle cx="644.90" cy="646.59" r="2.55" fill="#228b22"/>
<circle cx="649.70" cy="646.59" r="2.55" fill="#228b22"/>
<circle cx="657.40" cy="646.59" r="2.55" fill="#00bfbf"/>
<circle cx="661.20" cy="646.59" r="2.55" fill="#00bfbf"/>
<circle cx="680.40" cy="646.59" r="2.55" fill="#00bfbf"/>
<circle cx="682.80" cy="646.59" r="2.55" fill="#00bfbf"/>
<circle cx="699.10" cy="646.59" r="2.55" fill="#00bfbf"/>
<circle cx="629.90" cy="658.58" r="2.55" fill="#ff0000"/>
<circle cx="632.70" cy="658.58" r="2.55" fill="#ff0000"/>
<circle cx="635.20" cy="658.58" r="2.55" fill="#ff0000"/>
<circle cx="644.90" cy="658.58" r="2.55" fill="#ff0000"/>
<circle cx="654.00" cy="658.58" r="2.55" fill="#ff0000"/>
<circle cx="677.00" cy="658.58" r="2.55" fill="#ff0000"/>
<circle cx="553.00" cy="670.57" r="2.55" fill="#a52a2a"/>
<circle cx="580.20" cy="670.57" r="2.55" fill="#a52a2a"/>
<circle cx="589.60" cy="670.57" r="2.55" fill="#a52a2a"/>
<circle cx="665.80" cy="670.57" r="2.55" fill="#ff0000"/>
<circle cx="659.30" cy="622.61" r="2.55" fill="#bf00bf"/>
<circle cx="661.90" cy="622.61" r="2.55" fill="#bf00bf"/>
<circle cx="664.40" cy="622.61" r="2.55" fill="#bf00bf"/>
<circle cx="674.40" cy="622.61" r="2.55" fill="#bf00bf"/>
<rect x="689.45" y="541.35" width="8.9" height="8.9" fill="#ff0000"/>
<rect x="682.05" y="570.55" width="8.9" height="8.9" fill="#ff0000"/>
<rect x="679.85" y="593.45" width="8.9" height="8.9" fill="#ff0000"/>
<rect x="661.45" y="606.65" width="8.9" height="8.9" fill="#ff0000"/>
<rect x="657.85" y="618.35" width="8.9" height="8.9" fill="#ff0000"/>
<rect x="681.85" y="618.35" width="8.9" height="8.9" fill="#ff0000"/>
<rect x="637.55" y="632.25" width="8.9" height="8.9" fill="#ff0000"/>
<rect x="666.35" y="633.05" width="8.9" height="8.9" fill="#ff0000"/>
<rect x="634.55" y="652.55" width="8.9" height="8.9" fill="#ff0000"/>
<rect x="572.05" y="665.95" width="8.9" height="8.9" fill="#ff0000"/>
<rect x="548.50" y="514.35" width="65.60" height="16.20" fill="#fff" fill-opacity="0.8" stroke="#000" stroke-width="0.95"/>
<rect x="548.90" y="519.00" width="8.5" height="8.6" fill="#ff0000"/>
<text x="565.00" y="526.00" font-size="10.65" text-anchor="start" textLength="47.41" lengthAdjust="spacingAndGlyphs">: Centers</text>
<rect x="545.25" y="507.10" width="172.25" height="171.30" fill="none" stroke="#000" stroke-width="0.95"/>
</g>
</svg></body></html>
